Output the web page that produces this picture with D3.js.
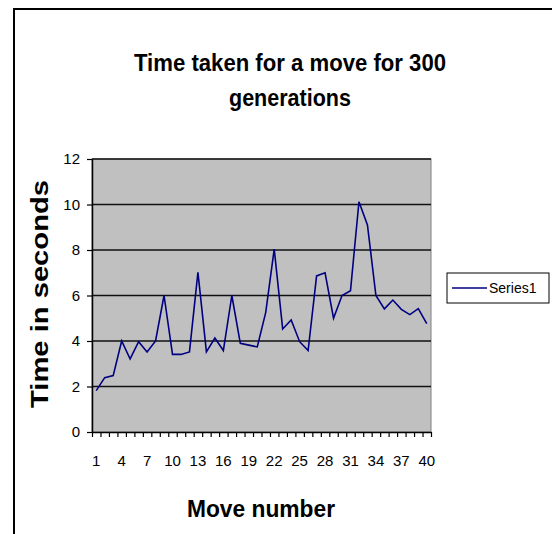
<!DOCTYPE html>
<html><head><meta charset="utf-8">
<script src="https://cdn.jsdelivr.net/npm/d3@7"></script>
<style>html,body{margin:0;padding:0;background:#fff;overflow:hidden}svg{display:block}</style>
</head><body>
<script>
const moves = d3.range(1, 41);
const timeSeconds = [1.82, 2.39, 2.48, 4.0, 3.21, 3.97, 3.52, 4.0, 6.0, 3.41,
  3.41, 3.52, 7.02, 3.52, 4.13, 3.58, 6.0, 3.9, 3.82, 3.74,
  5.26, 8.04, 4.53, 4.92, 3.97, 3.58, 6.86, 7.0, 5.0, 6.0,
  6.21, 10.12, 9.1, 6.0, 5.41, 5.8, 5.39, 5.16, 5.42, 4.76];
const yTicks = [0, 2, 4, 6, 8, 10, 12];
const xTickLabels = [1, 4, 7, 10, 13, 16, 19, 22, 25, 28, 31, 34, 37, 40];
const titleLines = ["Time taken for a move for 300", "generations"];
const seriesName = "Series1";

const W = 552, H = 534;
const font = "'Liberation Sans', Arial, sans-serif";
const svg = d3.select("body").append("svg").attr("width", W).attr("height", H);

// chart frame
svg.append("rect").attr("x", 14).attr("y", 9).attr("width", 560).attr("height", 560)
  .attr("fill", "#fff").attr("stroke", "#000").attr("stroke-width", 2);

const L = 92, R = 431, T = 159, B = 432;
const x = d3.scaleLinear().domain([0.5, 40.5]).range([L, R]);
const y = d3.scaleLinear().domain([0, 12]).range([B, T]);

// plot area
svg.append("rect").attr("x", L).attr("y", T).attr("width", R - L).attr("height", B - T)
  .attr("fill", "#c0c0c0").attr("stroke", "#808080").attr("stroke-width", 1);

// gridlines
svg.append("g").selectAll("line").data(yTicks.filter(d => d > 0)).join("line")
  .attr("x1", L).attr("x2", R).attr("y1", d => y(d)).attr("y2", d => y(d))
  .attr("stroke", "#111").attr("stroke-width", 1.6);

// y axis
const yAxis = svg.append("g").attr("transform", `translate(${L},0)`)
  .call(d3.axisLeft(y).tickValues(yTicks).tickSize(5).tickPadding(7).tickSizeOuter(0));
yAxis.select(".domain").attr("stroke", "#000").attr("stroke-width", 1.5);
yAxis.selectAll(".tick line").attr("stroke", "#000").attr("stroke-width", 1.2);
yAxis.selectAll("text").attr("font-family", font).attr("font-size", 15).attr("fill", "#000");

// x axis
const xAxis = svg.append("g").attr("transform", `translate(0,${B})`)
  .call(d3.axisBottom(x).tickValues(d3.range(0.5, 41, 1)).tickSize(5).tickFormat("").tickSizeOuter(0));
xAxis.select(".domain").attr("stroke", "#000").attr("stroke-width", 1.5);
xAxis.selectAll(".tick line").attr("stroke", "#000").attr("stroke-width", 1.2);
svg.append("g").selectAll("text").data(xTickLabels).join("text")
  .attr("x", d => x(d)).attr("y", B + 34).attr("text-anchor", "middle")
  .attr("font-family", font).attr("font-size", 15).attr("fill", "#000").text(d => d);

// series line
const line = d3.line().x((d, i) => x(moves[i])).y(d => y(d));
svg.append("path").datum(timeSeconds).attr("d", line)
  .attr("fill", "none").attr("stroke", "#000080").attr("stroke-width", 1.6)
  .attr("stroke-linejoin", "miter");

// title
svg.append("g").selectAll("text").data(titleLines).join("text")
  .attr("x", 290).attr("y", (d, i) => 71 + i * 35).attr("text-anchor", "middle")
  .attr("font-family", font).attr("font-weight", "bold").attr("font-size", 23)
  .attr("textLength", (d, i) => i === 0 ? 312 : 122).attr("lengthAdjust", "spacingAndGlyphs")
  .attr("fill", "#000").text(d => d);

// axis titles
svg.append("text").attr("transform", "translate(48,294) rotate(-90)")
  .attr("text-anchor", "middle").attr("font-family", font).attr("font-weight", "bold")
  .attr("font-size", 24).attr("textLength", 228).attr("lengthAdjust", "spacingAndGlyphs")
  .attr("fill", "#000").text("Time in seconds");
svg.append("text").attr("x", 261).attr("y", 517).attr("text-anchor", "middle")
  .attr("font-family", font).attr("font-weight", "bold").attr("font-size", 23)
  .attr("textLength", 148).attr("lengthAdjust", "spacingAndGlyphs")
  .attr("fill", "#000").text("Move number");

// legend
const lg = svg.append("g");
lg.append("rect").attr("x", 447).attr("y", 273).attr("width", 102).attr("height", 30)
  .attr("fill", "#fff").attr("stroke", "#000").attr("stroke-width", 1);
lg.append("line").attr("x1", 452).attr("x2", 487).attr("y1", 288).attr("y2", 288)
  .attr("stroke", "#000080").attr("stroke-width", 1.6);
lg.append("text").attr("x", 489).attr("y", 293).attr("font-family", font)
  .attr("font-size", 14).attr("fill", "#000").text(seriesName);
</script>
</body></html>
